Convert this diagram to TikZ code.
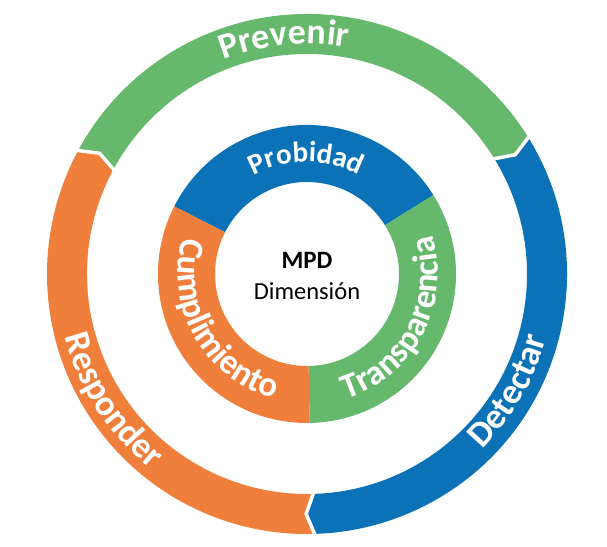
\documentclass[tikz,border=0pt]{standalone}
\usepackage{fontspec}
\setmainfont{Carlito}
\usetikzlibrary{decorations.text}

\definecolor{prevgreen}{HTML}{66B86C}
\definecolor{detblue}{HTML}{0B72B8}
\definecolor{resporange}{HTML}{F07F3B}
\newcommand{\outerfont}{\bfseries\fontsize{36}{36}\selectfont}
\newcommand{\innerfont}{\bfseries\fontsize{35}{35}\selectfont}
\newcommand{\probfont}{\bfseries\fontsize{29}{29}\selectfont}

\begin{document}
\begin{tikzpicture}[x=1pt,y=1pt,
    gap/.style={white,line width=3.5pt},
    ringtext/.style={decorate,decoration={text along path,text align=center,text color=white,text={#1}}}]

  \useasboundingbox (-307,-272) rectangle (300,274);

  \foreach \a/\b/\col in {152/32/prevgreen,32/-88/detblue,-88/-208/resporange}
    \fill[\col] (\a:260) arc[start angle=\a,end angle=\b,radius=260pt] -- ({\b-2.2}:240) -- (\b:220)
      arc[start angle=\b,end angle=\a,radius=220pt] -- ({\a-2.2}:240) -- cycle;
  \foreach \a in {152,32,-88}
    \draw[gap] (\a:264) -- ({\a-2.2}:240) -- (\a:216);

  \foreach \a/\b/\col in {153/32/detblue,32/-89/prevgreen,-89/-207/resporange}
    \fill[\col] (\a:149) arc[start angle=\a,end angle=\b,radius=149pt] -- (\b:92)
      arc[start angle=\b,end angle=\a,radius=92pt] -- cycle;

  \path[ringtext={|\outerfont|Prevenir}] (135.6:230) arc[start angle=135.6,end angle=55.6,radius=230pt];
  \path[ringtext={|\outerfont|Detectar}] (-70:248) arc[start angle=-70,end angle=10,radius=248pt];
  \path[ringtext={|\outerfont|Responder}] (173:250) arc[start angle=173,end angle=253,radius=250pt];

  \path[ringtext={|\probfont|Probidad}] (150.3:112) arc[start angle=150.3,end angle=30.3,radius=112pt];
  \path[ringtext={|\innerfont|Transparencia}] (-92.6:131) arc[start angle=-92.6,end angle=37.4,radius=131pt];
  \path[ringtext={|\innerfont|Cumplimiento}] (144.4:129) arc[start angle=144.4,end angle=274.4,radius=129pt];

  \node[font=\bfseries\fontsize{25}{25}\selectfont,anchor=base] (mpd) at (0,5.5) {MPD};
  \node[font=\fontsize{24.5}{25}\selectfont,anchor=base] (dim) at (0,-25) {Dimensión};

\end{tikzpicture}
\end{document}
